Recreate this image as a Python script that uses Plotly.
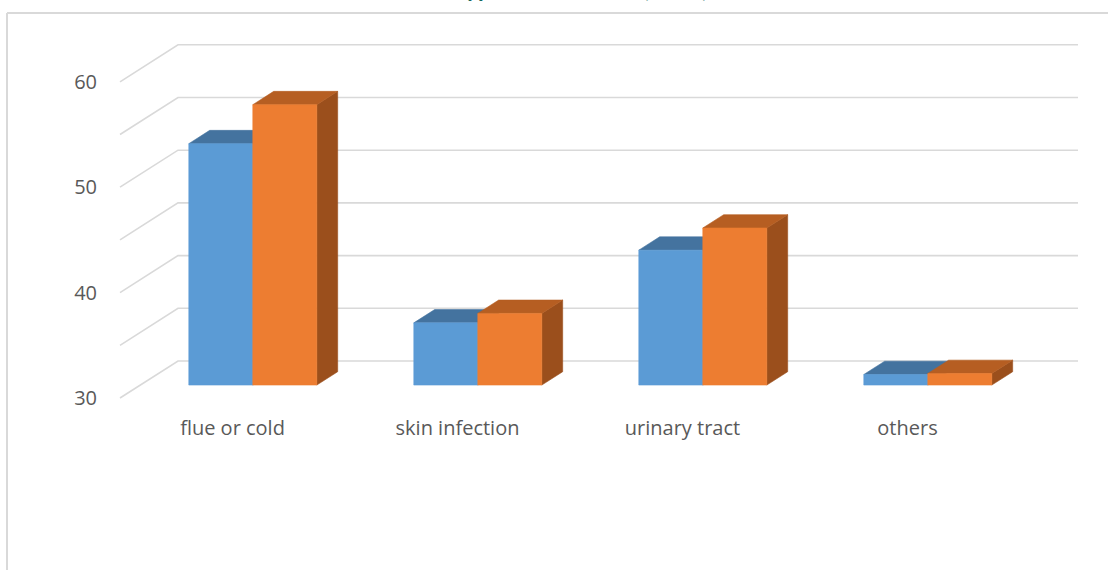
import plotly.graph_objects as go

# ---- data ----
categories = ["flue or cold", "skin infection", "urinary tract", "others"]
group_a = [52.9, 35.9, 42.8, 31.0]
group_b = [56.6, 36.8, 44.9, 31.1]
y_ticks = [30, 40, 50, 60]
grid_levels = [30, 35, 40, 45, 50, 55, 60]

# ---- oblique 3-D projection helpers (data units) ----
FLOOR = 30.0
DEPTH_X = 58 / 225      # horizontal shift of one full floor depth (category units)
DEPTH_Y = 37 / 10.54    # vertical shift of one full floor depth (value units)
BAR_W = 64 / 225        # width of each bar's front face
D_FRONT, D_BACK = 0.35, 0.71

W, H = 1108, 570
ML, MR, MT, MB = 104, 8, 40, 158
PX_PER_CAT = 225
PX_PER_VAL = 10.54
plot_w, plot_h = W - ML - MR, H - MT - MB
x_lo = -0.5 - (120 - ML) / PX_PER_CAT
x_hi = x_lo + plot_w / PX_PER_CAT
y_lo = FLOOR - (H - MB - 398) / PX_PER_VAL
y_hi = y_lo + plot_h / PX_PER_VAL

fig = go.Figure()

# wall gridlines: diagonal on the side wall, horizontal on the back wall
gx, gy = [], []
for g in grid_levels:
    gx += [-0.5, -0.5 + DEPTH_X, len(categories) - 0.5 + DEPTH_X, None]
    gy += [g, g + DEPTH_Y, g + DEPTH_Y, None]
fig.add_trace(go.Scatter(x=gx, y=gy, mode="lines",
                         line=dict(color="#d9d9d9", width=1.6),
                         hoverinfo="skip", showlegend=False))


def bar_faces(values, slot):
    """Return polygon coordinates for the front, top and side faces."""
    dd = D_BACK - D_FRONT
    ox, oy = dd * DEPTH_X, dd * DEPTH_Y
    faces = {"front": ([], []), "top": ([], []), "side": ([], [])}
    for i, v in enumerate(values):
        xl = i - BAR_W + slot * BAR_W + D_FRONT * DEPTH_X
        xr = xl + BAR_W
        b = FLOOR + D_FRONT * DEPTH_Y
        t = v + D_FRONT * DEPTH_Y
        fx, fy = faces["front"]
        fx += [xl, xr, xr, xl, xl, None]
        fy += [b, b, t, t, b, None]
        tx, ty = faces["top"]
        tx += [xl, xr, xr + ox, xl + ox, xl, None]
        ty += [t, t, t + oy, t + oy, t, None]
        sx, sy = faces["side"]
        sx += [xr, xr + ox, xr + ox, xr, xr, None]
        sy += [b, b + oy, t + oy, t, b, None]
    return faces


series = [
    ("Group A", group_a, 0, {"front": "#5b9bd5", "top": "#44739f", "side": "#3f6d98"}),
    ("Group B", group_b, 1, {"front": "#ed7d31", "top": "#b65e22", "side": "#9b4f1c"}),
]
for name, vals, slot, cols in series:
    faces = bar_faces(vals, slot)
    for face in ("side", "top", "front"):
        xs, ys = faces[face]
        fig.add_trace(go.Scatter(x=xs, y=ys, mode="lines", fill="toself",
                                 fillcolor=cols[face],
                                 line=dict(color=cols[face], width=0.6),
                                 name=name, hoverinfo="skip", showlegend=False))


def px_to_paper_x(px):
    return (px - ML) / plot_w


def px_to_paper_y(py):
    return (H - MB - py) / plot_h


# chart-area border (top and left edges)
border = dict(color="#d9d9d9", width=2)
fig.add_shape(type="line", xref="paper", yref="paper",
              x0=px_to_paper_x(7), x1=px_to_paper_x(W + 5),
              y0=px_to_paper_y(13), y1=px_to_paper_y(13), line=border)
fig.add_shape(type="line", xref="paper", yref="paper",
              x0=px_to_paper_x(7), x1=px_to_paper_x(7),
              y0=px_to_paper_y(13), y1=px_to_paper_y(H + 5), line=border)

# chart title, sitting at the very top edge of the page
fig.add_annotation(text="<b>Types of Infection (n=50)</b>", xref="paper", yref="paper",
                   x=px_to_paper_x(581), y=px_to_paper_y(4), xanchor="center",
                   yanchor="bottom", showarrow=False,
                   font=dict(family="Lato", size=23, color="#17665a"))

fig.update_layout(
    width=W, height=H,
    margin=dict(l=ML, r=MR, t=MT, b=MB),
    paper_bgcolor="white", plot_bgcolor="white",
    font=dict(family="Open Sans", color="#595959", size=20),
    xaxis=dict(range=[x_lo, x_hi], tickmode="array",
               tickvals=list(range(len(categories))), ticktext=categories,
               showgrid=False, zeroline=False, showline=False, ticks="",
               ticklabelstandoff=2,
               tickfont=dict(family="Open Sans", size=20, color="#595959"),
               fixedrange=True),
    yaxis=dict(range=[y_lo, y_hi], tickmode="array", tickvals=y_ticks,
               showgrid=False, zeroline=False, showline=False, ticks="",
               ticklabelstandoff=6,
               tickfont=dict(family="Open Sans", size=20, color="#595959"),
               fixedrange=True),
    showlegend=False,
)

fig.write_html("out.html")
